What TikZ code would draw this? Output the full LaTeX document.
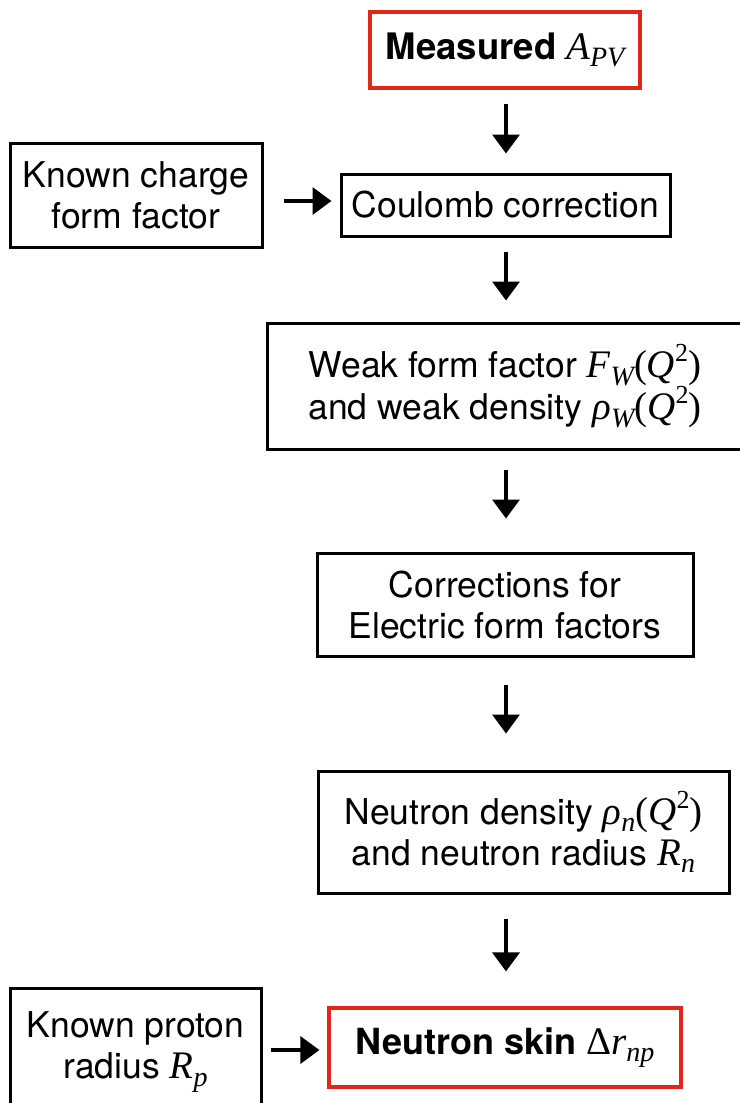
\documentclass[tikz,border=0pt]{standalone}
\usepackage{fontspec}
\setmainfont{TeX Gyre Heros}
\newfontfamily\tms{Liberation Serif}
\usetikzlibrary{arrows.meta}
\definecolor{boxred}{RGB}{228,38,24}
\newcommand\mi[1]{{\fontsize{39}{41}\selectfont\tms\itshape #1}}
\newcommand\mup[1]{{\fontsize{39}{41}\selectfont\tms #1}}
\newcommand\sbs[1]{\raisebox{-0.22em}{\fontsize{28}{28}\selectfont\tms\itshape #1}}
\newcommand\sps[1]{\raisebox{0.44em}{\fontsize{26}{26}\selectfont\tms #1}}
\begin{document}
\begin{tikzpicture}[x=1pt,y=-1pt,
  bx/.style={draw=black,line width=3pt,inner sep=0pt,align=center,font=\fontsize{35.5}{41}\selectfont},
  rbx/.style={bx,draw=boxred,line width=3.2pt},
  arr/.style={line width=3.5pt,-{Triangle[length=19pt,width=27pt]}}]
\useasboundingbox (0,0) rectangle (739,1103);
\node[rbx,minimum width=270pt,minimum height=76pt] (m) at (505,50) {{\fontsize{36.5}{41}\selectfont\bfseries Measured} \mi{A}\sbs{PV}};
\node[bx,minimum width=252pt,minimum height=104pt] (kc) at (136,195) {Known charge\\form factor};
\node[bx,minimum width=329pt,minimum height=62pt] (cc) at (505.5,205) {Coulomb correction};
\node[bx,minimum width=476pt,minimum height=126pt] (wf) at (505,386) {Weak form factor \mi{F}\sbs{W}\mup{(}\mi{Q}\sps{2}\mup{)}\\and weak density \mi{ρ}\sbs{W}\mup{(}\mi{Q}\sps{2}\mup{)}};
\node[bx,minimum width=376pt,minimum height=103pt] (ec) at (505,604.5) {Corrections for\\Electric form factors};
\node[bx,minimum width=411pt,minimum height=122pt] (nd) at (523.5,832) {Neutron density \mi{ρ}\sbs{n}\mup{(}\mi{Q}\sps{2}\mup{)}\\and neutron radius \mi{R}\sbs{n}};
\node[bx,minimum width=251pt,minimum height=128pt] (kp) at (135.5,1052) {Known proton\\radius \mi{R}\sbs{p}};
\node[rbx,minimum width=352pt,minimum height=79pt] (ns) at (505,1047.5) {{\fontsize{36}{41}\selectfont\bfseries Neutron skin} \mup{Δ}\mi{r}\sbs{np}};
\coordinate (ax) at (506,0);
\coordinate (ay1) at (0,201);
\coordinate (ay2) at (0,1050);
\draw[arr,shorten <=14pt,shorten >=19pt] (m.south -| ax) -- (cc.north -| ax);
\draw[arr,shorten <=14pt,shorten >=21pt] (cc.south -| ax) -- (wf.north -| ax);
\draw[arr,shorten <=19pt,shorten >=33pt] (wf.south -| ax) -- (ec.north -| ax);
\draw[arr,shorten <=27pt,shorten >=36pt] (ec.south -| ax) -- (nd.north -| ax);
\draw[arr,shorten <=24pt,shorten >=35pt] (nd.south -| ax) -- (ns.north -| ax);
\draw[arr,shorten <=20pt,shorten >=8pt] (kc.east |- ay1) -- (cc.west |- ay1);
\draw[arr,shorten <=8pt,shorten >=8pt] (kp.east |- ay2) -- (ns.west |- ay2);
\end{tikzpicture}
\end{document}
